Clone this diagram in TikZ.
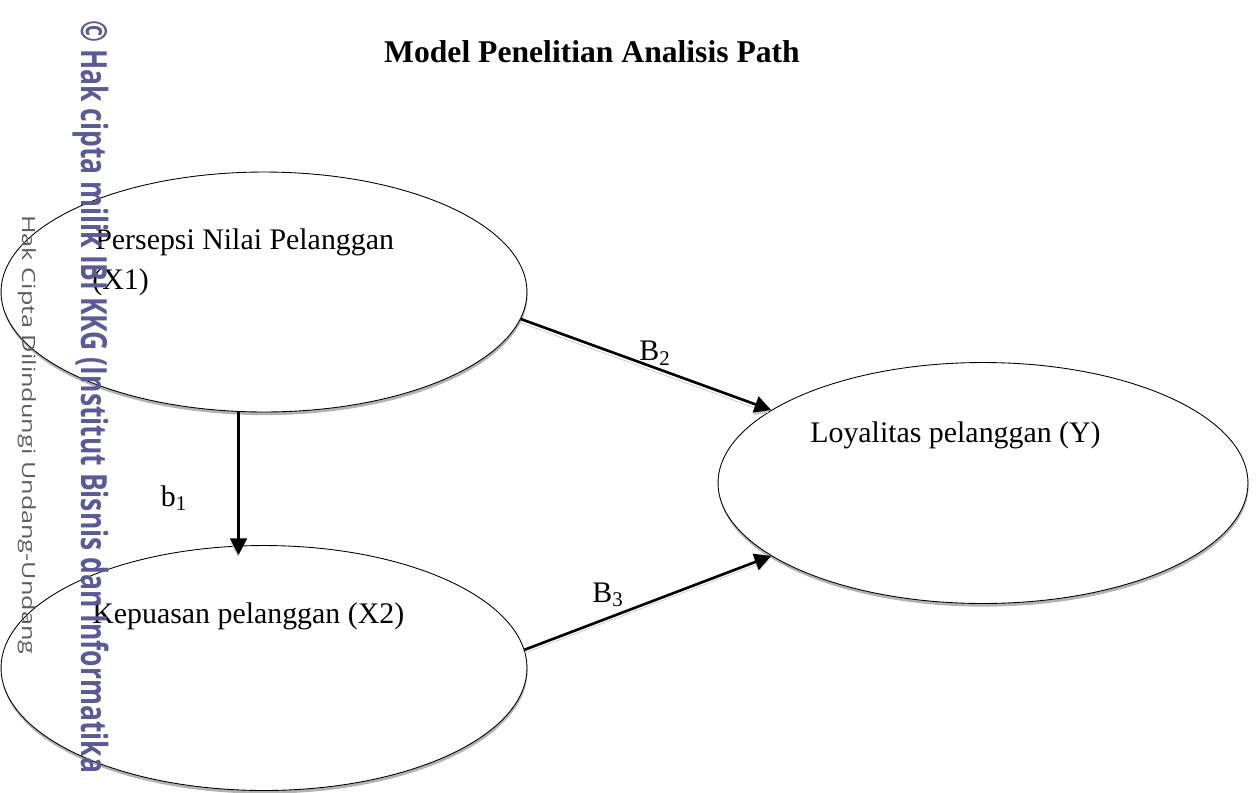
\documentclass[tikz,border=0pt]{standalone}
\usepackage{fontspec}
\setmainfont{Liberation Serif}
\newfontfamily\wmfont{Open Sans}
\usepackage{tikz}
\usetikzlibrary{positioning, shapes.geometric, arrows.meta, shadows, calc}
\definecolor{wmpurple}{HTML}{5A5A96}
\definecolor{wmgray}{HTML}{5C5C5C}
\tikzset{
	varnode/.style={
			shape=ellipse,
			draw=black,
			line width=0.5pt,
			fill=white,
			inner sep=0pt,
			drop shadow={shadow xshift=0.3pt, shadow yshift=-1.8pt, fill=black!30, opacity=1}
		},
	pathline/.style={
			-{Triangle[length=9.5pt,width=9.5pt]},
			line width=1.5pt,
			preaction={draw=black!22, transform canvas={xshift=-0.4pt,yshift=-2pt}}
		},
	vartext/.style={font=\fontsize{17}{23}\selectfont, inner sep=0pt},
	coeftext/.style={font=\fontsize{17}{20}\selectfont, inner sep=0pt}
}

\begin{document}
\begin{tikzpicture}[x=0.02cm, y=-0.02cm]
  \useasboundingbox (0,0) rectangle (1258,792);

  \node[font=\fontsize{18}{22}\selectfont\bfseries, anchor=base, inner sep=0pt] (title) at (592,62) {Model Penelitian Analisis Path};

  % variabel
  \node[varnode, minimum width=10.52cm, minimum height=4.8cm] (x1) at (264,292) {};
  \node[varnode, minimum width=10.52cm, minimum height=4.9cm] (x2) at (264,668) {};
  \node[varnode, minimum width=10.6cm, minimum height=4.82cm] (y) at (983,483) {};

  \node[vartext, anchor=base west] (x1a) at (95,249) {Persepsi Nilai Pelanggan};
  \node[vartext, anchor=base west] (x1b) at (92,289) {(X1)};
  \node[vartext, anchor=base west] (x2a) at (92,623) {Kepuasan pelanggan (X2)};
  \node[vartext, anchor=base west] (ya) at (810,442) {Loyalitas pelanggan (Y)};

  % jalur
  \draw[pathline, shorten >=-0.2cm] (x1.-102) -- (x1.-102 |- x2.north);
  \draw[pathline] (x1.-6) -- (y.161);
  \draw[pathline] (x2.4) -- (y.199);

  \node[coeftext] (b1) at (174,498) {b\textsubscript{1}};
  \node[coeftext] (b2) at (655,353) {B\textsubscript{2}};
  \node[coeftext] (b3) at (608,595) {B\textsubscript{3}};

  % watermark
  \node[rotate=-90, anchor=base west, inner sep=0pt, text=wmpurple, font=\wmfont\bfseries\fontsize{20.5}{24}\selectfont] (wm1) at (81,20) {\scalebox{0.735}[1]{© Hak cipta milik IBI KKG (Institut Bisnis dan Informatika}};
  \node[rotate=-90, anchor=base west, inner sep=0pt, text=wmgray, font=\wmfont\fontsize{10.4}{12}\selectfont] (wm2) at (22,215) {\scalebox{1.38}[1]{Hak Cipta Dilindungi Undang-Undang}};

\end{tikzpicture}
\end{document}
